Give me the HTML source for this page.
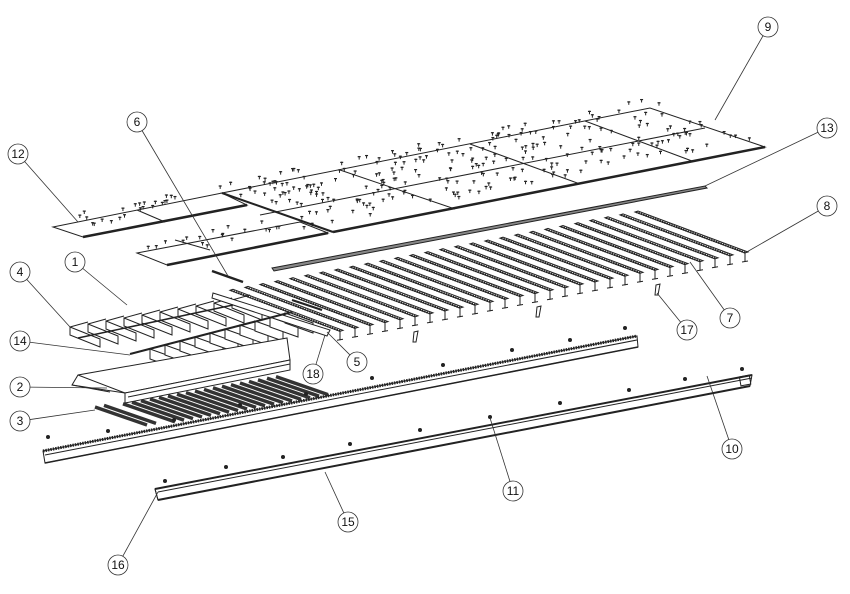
<!DOCTYPE html>
<html><head><meta charset="utf-8"><style>
html,body{margin:0;padding:0;background:#fff;width:850px;height:594px;overflow:hidden}
svg{display:block}
text{font-family:"Liberation Sans",sans-serif;font-size:12px;fill:#111}
</style></head><body>
<svg id="s" width="850" height="594" viewBox="0 0 850 594" xmlns="http://www.w3.org/2000/svg">
<g fill="none" stroke="#222" stroke-width="1">
<!-- panel 12 -->
<polygon points="53,227 222,193 247,205 83,237" fill="#fff"/>
<line x1="83" y1="237" x2="247" y2="205" stroke-width="2.5"/>
<line x1="137" y1="210" x2="165" y2="222"/>
<!-- panel lower -->
<polygon points="137,253 300,222 328,233 167,265" fill="#fff"/>
<line x1="167" y1="265" x2="328" y2="233" stroke-width="2.5"/>
<line x1="175" y1="240" x2="210" y2="250"/>
<!-- panel 9 -->
<polygon points="222,193 650,108 765,147 333,232" fill="#fff"/>
<line x1="333" y1="232" x2="765" y2="147" stroke-width="2.5"/>
<line x1="222" y1="193" x2="333" y2="232" stroke-width="2"/>
<line x1="260" y1="215" x2="705" y2="128"/>
<line x1="340" y1="170" x2="455" y2="209"/>
<line x1="470" y1="144" x2="580" y2="184"/>
<line x1="585" y1="121" x2="692" y2="161"/>
<!-- strip 13 -->
<polygon points="272,268 705,186 707,188 274,271" fill="#888"/>
<!-- part 6 -->
<line x1="212" y1="271" x2="243" y2="282" stroke-width="2.5"/>
<line x1="292" y1="300" x2="322" y2="310" stroke-width="2"/>
</g>
<g id="fast" fill="#222"></g>
<g id="beams" fill="none" stroke="#222" stroke-width="1"></g>
<g fill="none" stroke="#222" stroke-width="1">
<!-- part 5 angle -->
<polygon points="213,293 330,330 327,336 212,298" fill="#fff"/>
<!-- part 1 bar -->
<line x1="78" y1="338" x2="233" y2="305" stroke-width="1.5"/>
<!-- part 14 top line -->
<line x1="130" y1="354" x2="292" y2="312" stroke-width="2"/>
<!-- tray 2 -->
<polygon points="72,385 78,375 287,338 290,360 125,393" fill="#fff"/>
<polygon points="125,393 290,360 290,370 125,403" fill="#fff"/>
<line x1="78" y1="375" x2="125" y2="393"/>
<line x1="72" y1="385" x2="110" y2="392"/>
<line x1="128" y1="397" x2="290" y2="364"/>
<!-- toothed angle -->
<polygon points="43,451 637,336 638,347 45,463" fill="#fff"/>
<line x1="43" y1="451" x2="637" y2="336" stroke-width="3" stroke-dasharray="1.5 1"/>
<line x1="45" y1="455" x2="637" y2="340" stroke-width="1"/>
<line x1="45" y1="463" x2="638" y2="347" stroke-width="1.5"/>
<!-- rail 15 -->
<polygon points="155,489 752,375 750,386 158,500" fill="#fff"/>
<line x1="155" y1="489" x2="752" y2="375" stroke-width="2"/>
<line x1="158" y1="500" x2="750" y2="386" stroke-width="2"/>
<line x1="158" y1="492" x2="752" y2="378"/>
<rect x="740" y="376" width="10" height="9" transform="rotate(-10 745 380)"/>
<line x1="155" y1="489" x2="158" y2="500"/>
<!-- 17 parts -->
<polygon points="414,332 418,331 416,342 413,342"/>
<polygon points="537,307 541,306 539,317 536,317"/>
<polygon points="656,285 660,284 658,295 655,295"/>
</g>
<g id="bumps" fill="#222"></g>
<g id="lbl" stroke="#333" stroke-width="0.8" fill="none"></g>
</svg>
<script>
var NS="http://www.w3.org/2000/svg";
function el(p,t,a){var e=document.createElementNS(NS,t);for(var k in a)e.setAttribute(k,a[k]);p.appendChild(e);return e;}
var seed=7;function r(){seed=(seed*9301+49297)%233280;return seed/233280;}
// fasteners on panels
var F=document.getElementById('fast');
function scatter(p0,u,v,n){for(var i=0;i<n;i++){var a=r(),b=r();var x=p0[0]+u[0]*a+v[0]*b,y=p0[1]+u[1]*a+v[1]*b-6;
el(F,'rect',{x:x-1.5,y:y,width:3,height:1.2});el(F,'rect',{x:x-0.5,y:y,width:1,height:3.5});}}
scatter([53,222],[169,-34],[30,10],25);
scatter([137,248],[163,-31],[28,11],22);
scatter([222,188],[428,-85],[111,39],260);
// beams 7
var B=document.getElementById('beams');
for(var i=0;i<28;i++){var bx=635-15*i,by=212+2.9*i;var fx=bx+110,fy=by+41;
el(B,'polygon',{points:bx+','+by+' '+fx+','+fy+' '+(fx+3)+','+(fy-1)+' '+(bx+3)+','+(by-1),fill:'#fff'});
el(B,'line',{x1:bx+1,y1:by,x2:fx+1,y2:fy,'stroke-width':2,'stroke-dasharray':'1.5 1'});
el(B,'line',{x1:fx,y1:fy,x2:fx,y2:fy+9});el(B,'line',{x1:fx-3,y1:fy+9,x2:fx+3,y2:fy+8});}
// short beams 1/4
for(var i=0;i<10;i++){var bx=70+18*i,by=327-3*i;
el(B,'polygon',{points:bx+','+by+' '+(bx+30)+','+(by+12)+' '+(bx+30)+','+(by+20)+' '+bx+','+(by+8),fill:'#fff'});
el(B,'line',{x1:bx,y1:by,x2:bx+18,y2:by-5});}
// 14 short beams
for(var i=0;i<10;i++){var bx=150+15*i,by=349-4*i;
el(B,'polygon',{points:bx+','+by+' '+(bx+28)+','+(by+10)+' '+(bx+28)+','+(by+20)+' '+bx+','+(by+10),fill:'#fff'});}
// part 3 dark bars
for(var i=0;i<20;i++){var bx=95+9*i+(i>1?10:0),by=407-1.6*i;
el(B,'line',{x1:bx,y1:by,x2:bx+52,y2:by+18,'stroke-width':3.5,stroke:'#333'});}
// bumps
var U=document.getElementById('bumps');
[[48,437],[108,431],[174,420],[240,405],[306,394],[372,378],[443,365],[512,350],[570,340],[625,328]].forEach(function(p){el(U,'circle',{cx:p[0],cy:p[1],r:2});});
[[165,481],[226,467],[283,457],[350,444],[420,430],[490,417],[560,403],[629,390],[685,379],[742,369]].forEach(function(p){el(U,'circle',{cx:p[0],cy:p[1],r:2});});
// labels
var L=document.getElementById('lbl'),S=document.getElementById('s');
var labs=[["1",75,262,127,305],["2",20,387,107,388],["3",20,421,95,410],["4",20,272,70,327],["5",357,362,327,332],["6",137,122,228,276],["7",730,318,690,262],["8",827,206,745,253],["9",768,27,715,120],["10",732,449,707,376],["11",513,491,490,418],["12",18,154,78,222],["13",827,128,705,186],["14",20,341,130,355],["15",348,522,325,472],["16",118,565,158,492],["17",687,330,657,293],["18",313,374,325,335]];
labs.forEach(function(l){var dx=l[3]-l[1],dy=l[4]-l[2],d=Math.sqrt(dx*dx+dy*dy);
el(L,'line',{x1:l[1]+dx/d*10,y1:l[2]+dy/d*10,x2:l[3],y2:l[4]});
el(L,'circle',{cx:l[1],cy:l[2],r:10,fill:'#fff'});
var t=el(S,'text',{x:l[1],y:l[2]+4,'text-anchor':'middle','font-size':l[0].length>1?'11':'12'});t.textContent=l[0];});
</script>
</body></html>
